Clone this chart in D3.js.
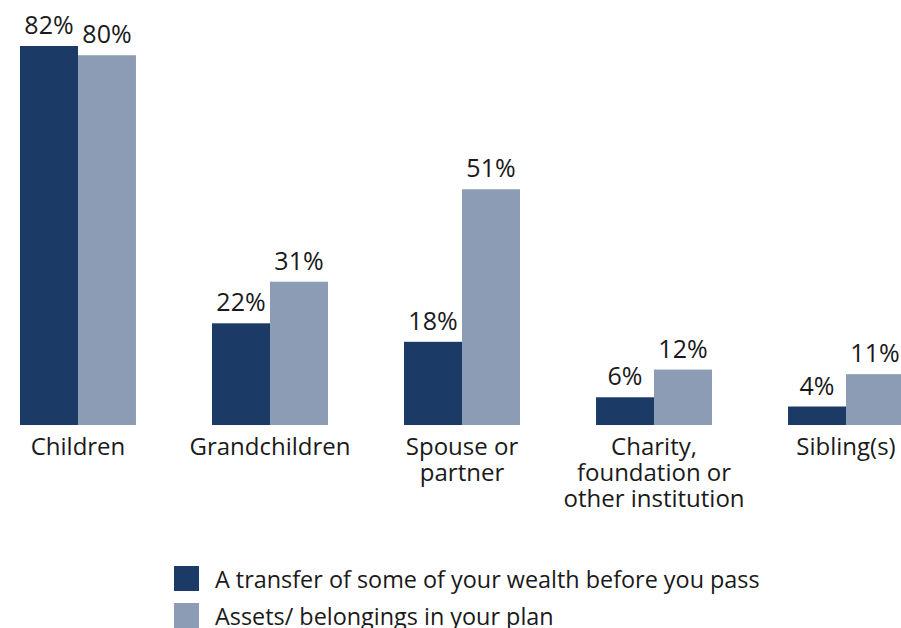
<!DOCTYPE html>
<html>
<head>
<meta charset="utf-8">
<script src="https://cdn.jsdelivr.net/npm/d3@7"></script>
<style>
  html, body { margin: 0; padding: 0; background: #fff; }
  svg text { font-family: "Open Sans", "Noto Sans", sans-serif; fill: #1a1a1a; }
</style>
</head>
<body>
<svg id="chart" width="901" height="628"></svg>
<script>
// Who receives wealth: recipient categories and share of respondents per series
const categories = [
  ["Children"],
  ["Grandchildren"],
  ["Spouse or", "partner"],
  ["Charity,", "foundation or", "other institution"],
  ["Sibling(s)"]
];
const seriesNames = [
  "A transfer of some of your wealth before you pass",
  "Assets/ belongings in your plan"
];
const transferValues = [82, 22, 18, 6, 4];
const assetValues = [80, 31, 51, 12, 11];
const colors = ["#1b3a66", "#8b9cb4"];

const svg = d3.select("#chart");
const baseline = 425;
const keys = categories.map((c, i) => "c" + i);

const x0 = d3.scaleBand()
  .domain(keys)
  .range([20, 904])
  .paddingInner(0.396)
  .paddingOuter(0);

const x1 = d3.scaleBand()
  .domain([0, 1])
  .range([0, x0.bandwidth()]);

const y = d3.scaleLinear()
  .domain([0, 82])
  .range([baseline, 46]);

const rows = keys.map((k, i) => ({ key: k, values: [transferValues[i], assetValues[i]] }));

const groups = svg.selectAll("g.group")
  .data(rows)
  .join("g")
  .attr("class", "group")
  .attr("transform", d => `translate(${x0(d.key)},0)`);

groups.selectAll("rect")
  .data(d => d.values.map((v, s) => ({ v, s })))
  .join("rect")
  .attr("x", d => x1(d.s))
  .attr("width", x1.bandwidth())
  .attr("y", d => y(d.v))
  .attr("height", d => baseline - y(d.v))
  .attr("fill", d => colors[d.s]);

groups.selectAll("text.value")
  .data(d => d.values.map((v, s) => ({ v, s })))
  .join("text")
  .attr("class", "value")
  .attr("x", d => x1(d.s) + x1.bandwidth() / 2)
  .attr("y", d => y(d.v) - 12)
  .attr("text-anchor", "middle")
  .attr("font-size", 25)
  .text(d => d.v + "%");

// category labels under each group
const catLabels = svg.selectAll("text.cat")
  .data(categories)
  .join("text")
  .attr("class", "cat")
  .attr("text-anchor", "middle")
  .attr("font-size", 24)
  .attr("transform", (d, i) => `translate(${x0(keys[i]) + x0.bandwidth() / 2},455)`);

catLabels.selectAll("tspan")
  .data(d => d)
  .join("tspan")
  .attr("x", 0)
  .attr("y", (d, i) => i * 26)
  .text(d => d);

// legend
const legend = svg.selectAll("g.legend")
  .data(seriesNames)
  .join("g")
  .attr("class", "legend")
  .attr("transform", (d, i) => `translate(174,${566 + i * 37})`);

legend.append("rect")
  .attr("width", 25)
  .attr("height", 25)
  .attr("fill", (d, i) => colors[i]);

legend.append("text")
  .attr("x", 41)
  .attr("y", 22)
  .attr("font-size", 23.4)
  .text(d => d);
</script>
</body>
</html>
